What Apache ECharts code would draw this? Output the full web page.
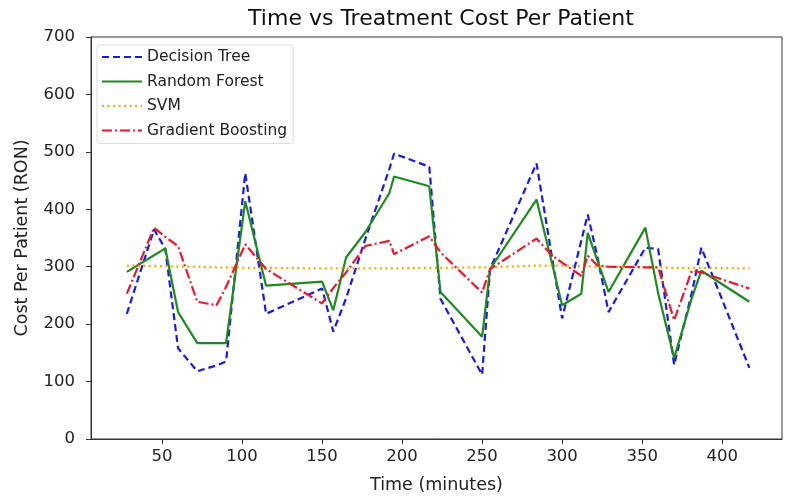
<!DOCTYPE html>
<html>
<head>
<meta charset="utf-8">
<script src="https://cdn.jsdelivr.net/npm/echarts@6/dist/echarts.min.js"></script>
<style>
  html, body { margin: 0; padding: 0; background: #fff; }
  #chart { width: 787px; height: 499px; }
</style>
</head>
<body>
<div id="chart"></div>
<script>
// time of each test case (minutes)
const times = [28, 45, 52, 60, 72, 84, 90, 102, 115, 150, 157, 165, 177, 192, 195, 217,
  224, 250, 255, 284, 294, 300, 312, 316, 322, 329, 352, 360, 370, 381, 387, 417]

// predicted cost per patient (RON) per model
const decisionTree = [218, 365, 331, 158, 118, 128, 135, 463, 218, 262, 187, 245, 348, 470, 497, 474,
  244, 112, 296, 480, 311, 210, 346, 391, 318, 221, 333, 331, 129, 254, 333, 124]
const randomForest = [291, 320, 332, 221, 167, 167, 167, 414, 267, 274, 224, 316, 360, 428, 457, 440,
  256, 178, 296, 417, 302, 233, 253, 359, 311, 256, 368, 254, 141, 245, 293, 239]
const svm = [302, 301, 301, 300, 300, 299, 299, 298, 298, 297, 297, 297, 297, 297, 297, 298,
  298, 299, 299, 302, 302, 302, 301, 301, 300, 300, 299, 299, 298, 298, 298, 297]
const gradientBoosting = [253, 368, 352, 336, 239, 233, 265, 339, 296, 236, 263, 290, 336, 345, 322, 353,
  325, 255, 296, 349, 319, 307, 284, 319, 302, 300, 299, 299, 207, 293, 290, 262]

const xTicks = [50, 100, 150, 200, 250, 300, 350, 400]

const pair = vals => times.map((t, i) => [t, vals[i]])

const font = 'DejaVu Sans'
const chart = echarts.init(document.getElementById('chart'))

const lineSeries = (name, vals, color, type) => ({
  name,
  type: 'line',
  symbol: 'none',
  data: pair(vals),
  lineStyle: { color, width: 2.2, type },
  itemStyle: { color },
  z: 3
})

chart.setOption({
  animation: false,
  textStyle: { fontFamily: font },
  title: {
    text: 'Time vs Treatment Cost Per Patient',
    left: 436,
    textAlign: 'center',
    top: 3,
    textStyle: { fontFamily: font, fontSize: 22, fontWeight: 'normal', color: '#111' }
  },
  grid: {
    left: 91, right: 5, top: 37, bottom: 58,
    show: true, borderColor: '#333', borderWidth: 1
  },
  legend: {
    orient: 'vertical',
    left: 97,
    top: 45,
    padding: [4, 6, 5, 4],
    itemWidth: 40,
    itemHeight: 16,
    itemGap: 8.5,
    itemStyle: { opacity: 0 },
    backgroundColor: '#fff',
    borderColor: '#ddd',
    borderWidth: 1,
    borderRadius: 3,
    textStyle: { fontFamily: font, fontSize: 15.5, color: '#222' },
    data: ['Decision Tree', 'Random Forest', 'SVM', 'Gradient Boosting']
  },
  xAxis: {
    type: 'value',
    min: 5.6,
    max: 437.4,
    name: 'Time (minutes)',
    nameLocation: 'middle',
    nameGap: 37,
    nameTextStyle: { fontFamily: font, fontSize: 17.5, color: '#222' },
    axisLine: { show: true, lineStyle: { color: '#333' } },
    axisTick: { show: true, length: 5, customValues: xTicks, lineStyle: { color: '#333' } },
    axisLabel: { customValues: xTicks, fontFamily: font, fontSize: 16.5, color: '#222', margin: 9 },
    splitLine: { show: false }
  },
  yAxis: {
    type: 'value',
    min: 0,
    max: 700,
    interval: 100,
    name: 'Cost Per Patient (RON)',
    nameLocation: 'middle',
    nameGap: 60,
    nameTextStyle: { fontFamily: font, fontSize: 17.5, color: '#222' },
    axisLine: { show: true, lineStyle: { color: '#333' } },
    axisTick: { show: true, length: 5, lineStyle: { color: '#333' } },
    axisLabel: { fontFamily: font, fontSize: 16.5, color: '#222', margin: 16 },
    splitLine: { show: false }
  },
  series: [
    lineSeries('Decision Tree', decisionTree, '#1a1ae6', [7, 4]),
    lineSeries('Random Forest', randomForest, '#1f8a1f', 'solid'),
    lineSeries('SVM', svm, '#ffa500', [2, 3.5]),
    lineSeries('Gradient Boosting', gradientBoosting, '#e8192c', [10, 3, 2, 3])
  ]
})
</script>
</body>
</html>
